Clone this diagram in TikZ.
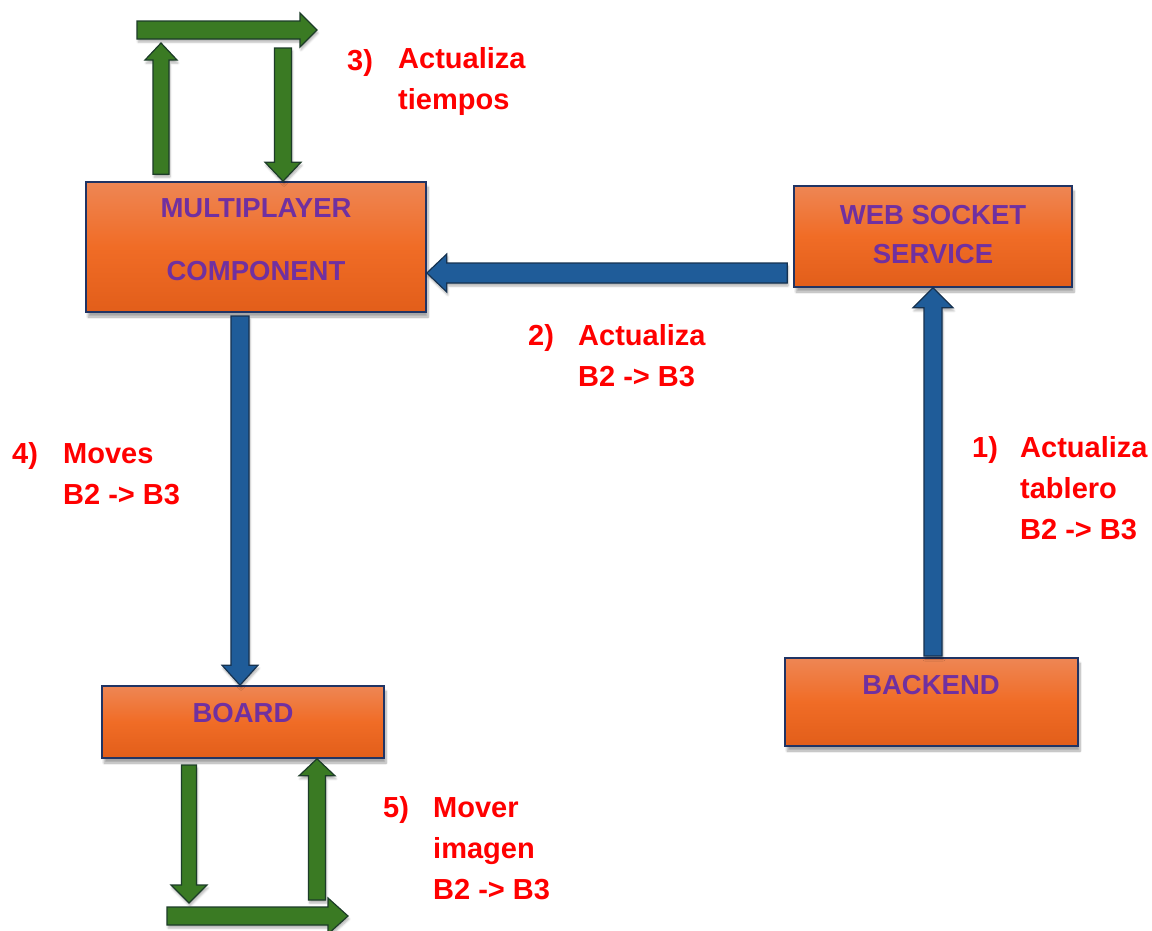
\documentclass[tikz,border=0pt]{standalone}
\usepackage{fontspec}
\setmainfont{Liberation Sans}
\usetikzlibrary{calc,shadows.blur}

\definecolor{boxtop}{RGB}{238,134,84}
\definecolor{boxmid}{RGB}{240,108,38}
\definecolor{boxbot}{RGB}{226,94,26}
\definecolor{boxedge}{RGB}{32,52,100}
\definecolor{boxtext}{RGB}{112,48,160}
\definecolor{flowblue}{RGB}{31,92,153}
\definecolor{flowblueedge}{RGB}{22,50,80}
\definecolor{loopgreen}{RGB}{58,122,35}
\definecolor{loopgreenedge}{RGB}{28,60,40}
\definecolor{stepred}{RGB}{255,0,0}

% block arrow from #2 to #3: shaft half-width #4, head half-width #5, head length #6
\newcommand{\blockarrow}[6][]{%
  \draw[#1] let \p1=(#2), \p2=(#3),
    \n1={atan2(\y2-\y1,\x2-\x1)}, \n2={veclen(\x2-\x1,\y2-\y1)} in
    [shift={(\p1)}, rotate=\n1]
    (0pt,-#4) -- ({\n2*1pt-#6},-#4) -- ({\n2*1pt-#6},-#5) -- ({\n2*1pt},0pt)
    -- ({\n2*1pt-#6},#5) -- ({\n2*1pt-#6},#4) -- (0pt,#4) -- cycle;}

\tikzset{
  compbox/.style={draw=boxedge, line width=1.6pt, rectangle,
    top color=boxtop, bottom color=boxbot, middle color=boxmid,
    blur shadow={shadow xshift=2pt, shadow yshift=-5pt, shadow blur steps=8, shadow opacity=35},
    inner sep=0pt},
  comptext/.style={text=boxtext, font=\fontsize{27.5}{34}\selectfont\bfseries, inner sep=0pt},
  bluearrow/.style={fill=flowblue, draw=flowblueedge, line width=1.2pt, line join=miter,
    blur shadow={shadow xshift=1pt, shadow yshift=-3pt, shadow blur steps=5, shadow opacity=30}},
  greenarrow/.style={fill=loopgreen, draw=loopgreenedge, line width=1.2pt, line join=miter,
    blur shadow={shadow xshift=1pt, shadow yshift=-3pt, shadow blur steps=5, shadow opacity=30}},
  stepnum/.style={text=stepred, font=\fontsize{29}{41}\selectfont\bfseries, anchor=base west, inner sep=0pt},
  % multi-line labels are placed by the baseline of their last line
  steptext/.style={text=stepred, font=\fontsize{29}{41}\selectfont\bfseries, anchor=base west,
    inner sep=0pt, align=left},
}

\begin{document}
\begin{tikzpicture}[x=1pt, y=-1pt]
\useasboundingbox (0,0) rectangle (1152,930);

% components
\node[compbox, minimum width=340pt, minimum height=130pt] (mp) at (256,247) {};
\node[compbox, minimum width=278pt, minimum height=101pt] (ws) at (933,236.5) {};
\node[compbox, minimum width=282pt, minimum height=72pt] (board) at (243,722) {};
\node[compbox, minimum width=293pt, minimum height=88pt] (be) at (931.5,702) {};

\node[comptext] (mp1) at (256,208) {MULTIPLAYER};
\node[comptext] (mp2) at (256,271) {COMPONENT};
\node[comptext] (ws1) at (933,215) {WEB SOCKET};
\node[comptext] (ws2) at (933,254) {SERVICE};
\node[comptext] (board1) at (243,713) {BOARD};
\node[comptext] (be1) at (931,685) {BACKEND};

% main flow
\coordinate (wsout) at ($(ws.west)+(-6pt,0)$);
\coordinate (wsout) at (wsout |- 0,273);
\coordinate (mpin) at (mp.east |- wsout);
\blockarrow[bluearrow]{wsout}{mpin}{10pt}{19pt}{20pt}

\coordinate (mpout) at (240,316);
\coordinate (boardin) at (board.north -| mpout);
\blockarrow[bluearrow]{mpout}{boardin}{9pt}{18pt}{20pt}

\coordinate (beout) at (933,656);
\coordinate (wsin) at (ws.south -| beout);
\blockarrow[bluearrow]{beout}{wsin}{9pt}{20pt}{20pt}

% refresh loop above the multiplayer component
\coordinate (mpup) at (mp.north -| 161,0);
\coordinate (mpup) at ($(mpup)+(0,7pt)$);
\coordinate (looptopA) at (161,43);
\coordinate (looptopB) at (137,30);
\coordinate (looptopC) at (317,30);
\coordinate (loopdown) at (283,48);
\coordinate (mpdown) at (mp.north -| loopdown);
\blockarrow[greenarrow]{mpup}{looptopA}{8pt}{16pt}{17pt}
\blockarrow[greenarrow]{looptopB}{looptopC}{9pt}{17pt}{17pt}
\blockarrow[greenarrow]{loopdown}{mpdown}{8.5pt}{18pt}{19pt}

% image loop below the board
\coordinate (bdown) at (189,765);
\coordinate (bdownend) at (189,903);
\coordinate (bright) at (167,916);
\coordinate (brightend) at (348,916);
\coordinate (bup) at (317,900);
\coordinate (bupend) at (board.south -| bup);
\blockarrow[greenarrow]{bdown}{bdownend}{7.5pt}{18pt}{18pt}
\blockarrow[greenarrow]{bright}{brightend}{9pt}{18pt}{20pt}
\blockarrow[greenarrow]{bup}{bupend}{8.5pt}{18pt}{17pt}

% step labels
\node[stepnum] (n1) at (972,457) {1)};
\node[steptext] (t1) at (1020,539) {Actualiza\\tablero\\B2 -> B3};
\node[stepnum] (n2) at (528,345) {2)};
\node[steptext] (t2) at (578,386) {Actualiza\\B2 -> B3};
\node[stepnum] (n3) at (347,70) {3)};
\node[steptext] (t3) at (398,109) {Actualiza\\tiempos};
\node[stepnum] (n4) at (12,463) {4)};
\node[steptext] (t4) at (63,504) {Moves\\B2 -> B3};
\node[stepnum] (n5) at (383,817) {5)};
\node[steptext] (t5) at (433,899) {Mover\\imagen\\B2 -> B3};
\end{tikzpicture}
\end{document}
